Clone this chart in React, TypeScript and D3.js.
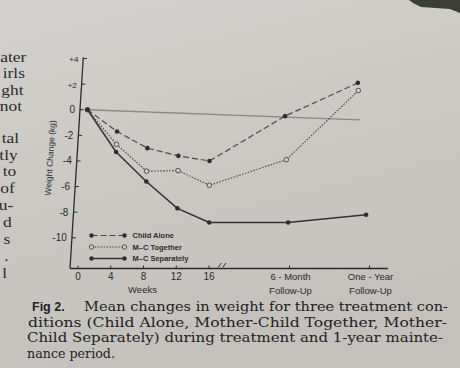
import React from 'react';
import * as d3 from 'd3';

// weeks of treatment, then the two follow-up visits
const weeks = [0, 4, 8, 12, 16];
const followUps = ['6-Month', 'One-Year'];
const followUpLabels = [['6 - Month', 'Follow-Up'], ['One - Year', 'Follow-Up']];

// mean weight change (kg), one value per time point
const childAlone = [0, -1.7, -3.0, -3.6, -4.0, -0.5, 2.1];
const mcTogether = [0, -2.7, -4.8, -4.75, -5.9, -3.9, 1.5];
const mcSeparately = [0, -3.3, -5.6, -7.7, -8.8, -8.8, -8.2];
// faint reference line, start (week 0) and end (one-year)
const referenceLine = [0, -0.8];

const yTicks = [4, 2, 0, -2, -4, -6, -8, -10];
const yTickLabels = ['+4', '+2', '0', '-2', '-4', '-6', '-8', '-10'];

const legendNames = ['Child Alone', 'M\u2013C Together', 'M\u2013C Separately'];

const captionLines = [
  'Mean changes in weight for three treatment con-',
  'ditions (Child Alone, Mother-Child Together, Mother-',
  'Child Separately) during treatment and 1-year mainte-',
  'nance period.',
];

// cut-off words from the neighbouring text column
const sideWords = ['ater', 'irls', 'ght', 'not', 'tal', 'tly', 'to', 'of', 'u-', 'd', 's', '.', 'l'];
const sideBaselines = [62, 78, 94.5, 111, 143, 159.5, 176, 193, 210, 227, 244, 261, 278];

const W = 460;
const H = 368;
const BASE = 268.5;

// the page was photographed at an angle: verticals lean in toward the top
const warp = (x: number, y: number): [number, number] => {
  const s = 1 - 0.00042 * (BASE - y);
  return [220 + (x - 220) * s, y];
};

const App: React.FC = () => {
  const xWeeks = d3.scaleLinear().domain([0, 16]).range([78, 209]);
  const xFollow = d3.scalePoint<string>().domain(followUps).range([289.5, 369.5]);
  const y = d3.scaleLinear().domain([-10, 4]).range([237.8, 58.5]);

  const xAt = (i: number) => (i < weeks.length ? xWeeks(weeks[i]) : (xFollow(followUps[i - weeks.length]) as number));

  const line = d3.line<[number, number]>().x(d => d[0]).y(d => d[1]);
  const seriesPts = (vals: number[]) => vals.map((v, i) => warp(xAt(i), y(v)));

  const refPts: [number, number][] = [
    warp(xWeeks(0), y(referenceLine[0])),
    warp(xFollow('One-Year') as number, y(referenceLine[1])),
  ];

  const ink = '#2b2b2b';
  const sans = 'Liberation Sans, Arial, sans-serif';

  const series = [
    { vals: childAlone, dash: '6,3', open: false, color: '#4a4a4a', width: 1.2 },
    { vals: mcTogether, dash: '1.6,1.4', open: true, color: '#4a4a4a', width: 1.1 },
    { vals: mcSeparately, dash: undefined, open: false, color: '#333', width: 1.5 },
  ];

  const axisTop = warp(70, y(4) - 1);
  const axisBot = warp(70, BASE);
  const yTitlePos = warp(45, 158);

  return (
    <svg width={W} height={H} style={{ position: 'absolute', left: 0, top: 0 }}>
      <defs>
        <linearGradient id="paper" x1="0" y1="0" x2="0.3" y2="1">
          <stop offset="0" stopColor="#d3d1cd" />
          <stop offset="1" stopColor="#c4c1bd" />
        </linearGradient>
      </defs>
      <rect width={W} height={H} fill="url(#paper)" />
      <polygon points="409,0 460,0 460,13 450,9 421,7 413,3" fill="#3b3e37" />

      {/* neighbouring column */}
      {sideWords.map((w, i) => {
        const p = warp(8, sideBaselines[i]);
        return (
          <g key={i} transform={`translate(${p[0]},${p[1]}) scale(1.2,1)`}>
            <text textAnchor="end" fontFamily="Liberation Serif, serif" fontSize={14.5} fill={ink}>
              {w}
            </text>
          </g>
        );
      })}

      {/* reference line */}
      <path d={line(refPts) as string} fill="none" stroke="#8c8a87" strokeWidth={1.3} />

      {/* axes */}
      <line x1={axisTop[0]} y1={axisTop[1]} x2={axisBot[0]} y2={axisBot[1]} stroke={ink} strokeWidth={1.3} />
      <line x1={70} y1={BASE} x2={388} y2={BASE} stroke={ink} strokeWidth={1.3} />

      {yTicks.map((t, i) => {
        const a = warp(70, y(t));
        const b = warp(74, y(t));
        const l = warp(65, y(t) + 3.5);
        return (
          <g key={t}>
            <line x1={a[0]} y1={a[1]} x2={b[0]} y2={b[1]} stroke={ink} strokeWidth={1} />
            <text x={l[0]} y={l[1]} textAnchor="end" fontFamily={sans} fontSize={t > 0 ? 8 : 10} fill={ink}>
              {yTickLabels[i]}
            </text>
          </g>
        );
      })}

      {weeks.map(w => (
        <g key={w}>
          <line x1={xWeeks(w)} y1={BASE} x2={xWeeks(w)} y2={BASE - 3} stroke={ink} strokeWidth={1} />
          <text x={xWeeks(w)} y={279.5} textAnchor="middle" fontFamily={sans} fontSize={10} fill={ink}>
            {w}
          </text>
        </g>
      ))}
      {followUps.map((f, i) => {
        const x = xFollow(f) as number;
        return (
          <g key={f}>
            <line x1={x} y1={BASE} x2={x} y2={BASE - 3} stroke={ink} strokeWidth={1} />
            <text x={x + 1} y={279.5} textAnchor="middle" fontFamily={sans} fontSize={9.5} fill={ink}>
              {followUpLabels[i][0]}
            </text>
            <text x={x + 1} y={294} textAnchor="middle" fontFamily={sans} fontSize={9.5} fill={ink}>
              {followUpLabels[i][1]}
            </text>
          </g>
        );
      })}
      <text x={(xWeeks(0) + xWeeks(16)) / 2 - 1} y={293} textAnchor="middle" fontFamily={sans} fontSize={9.5} fill={ink}>
        Weeks
      </text>

      {/* axis break */}
      <line x1={218} y1={267.5} x2={221.5} y2={263} stroke={ink} strokeWidth={1} />
      <line x1={222.5} y1={267.5} x2={226} y2={263} stroke={ink} strokeWidth={1} />

      <text
        transform={`translate(${yTitlePos[0]},${yTitlePos[1]}) rotate(-86.4)`}
        textAnchor="middle"
        fontFamily={sans}
        fontSize={8.5}
        fill={ink}
      >
        Weight Change (kg)
      </text>

      {/* series */}
      {series.map((s, si) => {
        const pts = seriesPts(s.vals);
        return (
          <g key={si}>
            <path d={line(pts) as string} fill="none" stroke={s.color} strokeWidth={s.width} strokeDasharray={s.dash} />
            {pts.map((p, i) => (
              <circle
                key={i}
                cx={p[0]}
                cy={p[1]}
                r={2.3}
                fill={s.open ? '#d0cecb' : '#2e2e2e'}
                stroke={s.open ? '#444' : 'none'}
                strokeWidth={0.9}
              />
            ))}
          </g>
        );
      })}

      {/* legend */}
      {series.map((s, i) => {
        const ly = 235.5 + i * 11.5;
        return (
          <g key={i}>
            <line x1={91.5} y1={ly} x2={124.5} y2={ly} stroke={s.color} strokeWidth={s.width} strokeDasharray={s.dash} />
            {[91.5, 124.5].map(cx => (
              <circle
                key={cx}
                cx={cx}
                cy={ly}
                r={2.2}
                fill={s.open ? '#d0cecb' : '#2e2e2e'}
                stroke={s.open ? '#444' : 'none'}
                strokeWidth={0.9}
              />
            ))}
            <text x={132.5} y={ly + 2.8} fontFamily={sans} fontWeight="bold" fontSize={7.5} fill={ink}>
              {legendNames[i]}
            </text>
          </g>
        );
      })}

      {/* caption */}
      <text x={32} y={310.5} fontFamily={sans} fontWeight="bold" fontSize={12.5} fill="#222">
        Fig 2.
      </text>
      <text x={84} y={310.5} fontFamily="DejaVu Serif, serif" fontSize={12.5} fill="#222" textLength={364} lengthAdjust="spacingAndGlyphs">
        {captionLines[0]}
      </text>
      <text x={28} y={326.5} fontFamily="DejaVu Serif, serif" fontSize={12.5} fill="#222" textLength={419} lengthAdjust="spacingAndGlyphs">
        {captionLines[1]}
      </text>
      <text x={27} y={342} fontFamily="DejaVu Serif, serif" fontSize={12.5} fill="#222" textLength={416} lengthAdjust="spacingAndGlyphs">
        {captionLines[2]}
      </text>
      <text x={27} y={357.5} fontFamily="DejaVu Serif, serif" fontSize={12.5} fill="#222" textLength={88} lengthAdjust="spacingAndGlyphs">
        {captionLines[3]}
      </text>
    </svg>
  );
};

export default App;
